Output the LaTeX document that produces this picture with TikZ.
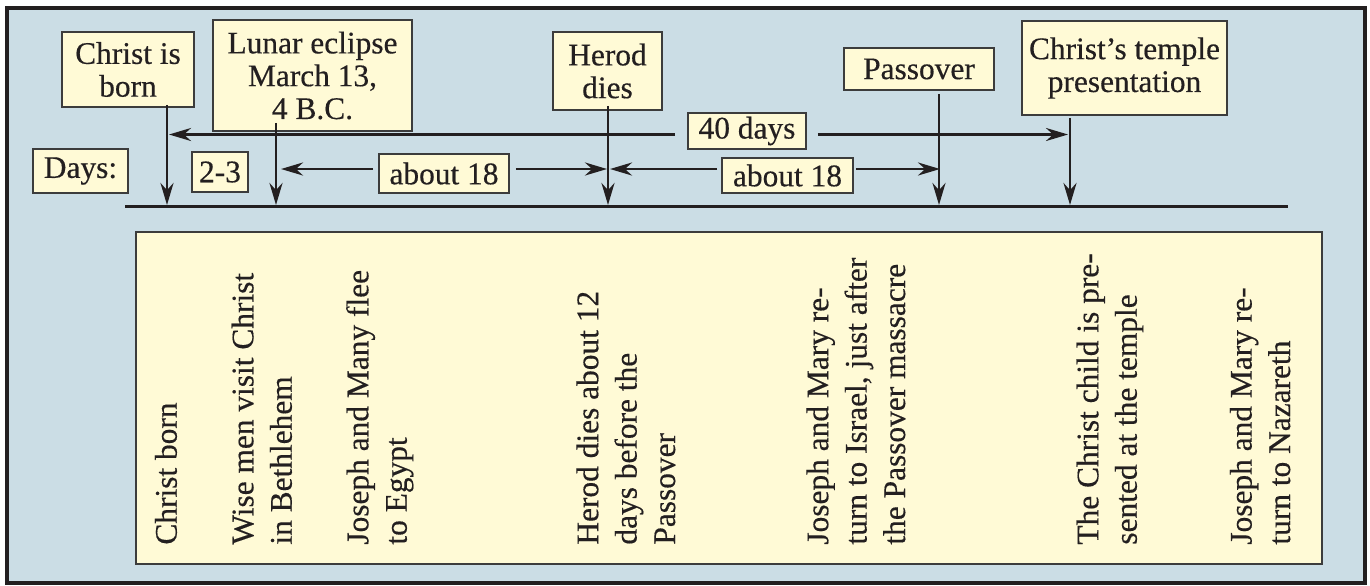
\documentclass[tikz,border=0pt]{standalone}
\usepackage{fontspec}
\setmainfont{Liberation Serif}[FakeBold=0.4]
\usetikzlibrary{arrows.meta,calc}
\definecolor{bgblue}{RGB}{203,221,229}
\definecolor{paleyel}{RGB}{255,250,214}
\definecolor{edgegray}{RGB}{60,60,60}
\definecolor{ink}{RGB}{35,31,32}
\begin{document}
\begin{tikzpicture}[x=0.5pt,y=-0.5pt,
  lbl/.style={draw=edgegray, line width=0.9pt, fill=paleyel, text=ink, align=center, inner sep=0pt,
    font=\fontsize{15.7}{16.4}\selectfont},
  note/.style={rotate=90, anchor=base west, align=left, inner sep=0pt, text=ink,
    font=\fontsize{15.7}{19.2}\selectfont},
  arr/.style={draw=ink, line width=1.4pt, -{Stealth[length=11pt,width=6.5pt]}},
  axisline/.style={draw=ink, line width=1.5pt}]
\useasboundingbox (0,0) rectangle (1370,585);
\fill[white] (0,0) rectangle (1370,585);
\draw[fill=bgblue, draw=ink, line width=1.6pt] (7,8) rectangle (1365,583);
\draw[fill=paleyel, draw=edgegray, line width=1pt] (136,232) rectangle (1322,564);

% top labels
\node[lbl, minimum width=66pt, minimum height=37.5pt] (cb) at (128,69.5) {Christ is\\born};
\node[lbl, minimum width=99.5pt, minimum height=55.5pt] (le) at (312.5,75.5) {Lunar eclipse\\March 13,\\4 B.C.};
\node[lbl, minimum width=54.5pt, minimum height=39pt] (hd) at (607.5,71) {Herod\\dies};
\node[lbl, minimum width=75pt, minimum height=21pt] (po) at (919,69) {Passover};
\node[lbl, minimum width=102.5pt, minimum height=47pt] (ct) at (1124.5,68) {Christ's temple\\presentation};
\node[lbl, minimum width=59pt, minimum height=18pt] (fd) at (747,131) {40 days};
\node[lbl, minimum width=47.5pt, minimum height=22pt] (dy) at (80.5,171) {Days:};
\node[lbl, minimum width=28pt, minimum height=20pt] (tt) at (220,172) {2-3};
\node[lbl, minimum width=65pt, minimum height=19.5pt] (a1) at (444,173.5) {about 18};
\node[lbl, minimum width=65.5pt, minimum height=17.5pt] (a2) at (787.5,175.5) {about 18};

% time axis
\coordinate (axl) at (125,206);
\coordinate (axr) at (1288,206);
\draw[axisline] (axl) -- (axr);

% tick points on the axis
\coordinate (b1) at (167,205);
\coordinate (b2) at (276,205);
\coordinate (b3) at (608,205);
\coordinate (b4) at (939,205);
\coordinate (b5) at (1070,205);

% 40 days span
\coordinate (l40) at (169,134.5);
\coordinate (r40) at (1068,134.5);
\draw[arr] ([xshift=-6pt]fd.west |- l40) -- (l40);
\draw[arr] ([xshift=5.5pt]fd.east |- r40) -- (r40);

% about 18 spans
\coordinate (a1l) at (281,169);
\coordinate (a1r) at (607,169);
\coordinate (a2l) at (610,169);
\coordinate (a2r) at (940,169);
\draw[arr] ([xshift=-2.5pt]a1.west |- a1l) -- (a1l);
\draw[arr] ([xshift=3pt]a1.east |- a1r) -- (a1r);
\draw[arr] ([xshift=-2pt]a2.west |- a2l) -- (a2l);
\draw[arr] ([xshift=1pt]a2.east |- a2r) -- (a2r);

% vertical arrows to the axis
\draw[arr] ([yshift=1.5pt]cb.south -| b1) -- (b1);
\draw[arr] ([yshift=4.5pt]le.south -| b2) -- (b2);
\draw[arr] ([yshift=2.5pt]hd.south -| b3) -- (b3);
\draw[arr] ([yshift=-1.5pt]po.south -| b4) -- (b4);
\draw[arr] ([yshift=-1pt]ct.south -| b5) -- (b5);

% rotated notes (positioned by the baseline of their last line)
\node[note] (n1) at (176.7,545) {Christ born};
\node[note] (n2) at (291.7,545) {Wise men visit Christ\\in Bethlehem};
\node[note] (n3) at (406.7,545) {Joseph and Many flee\\to Egypt};
\node[note] (n4) at (675,545) {Herod dies about 12\\days before the\\Passover};
\node[note] (n5) at (905,545) {Joseph and Mary re-\\turn to Israel, just after\\the Passover massacre};
\node[note] (n6) at (1136.7,545) {The Christ child is pre-\\sented at the temple};
\node[note] (n7) at (1290,545) {Joseph and Mary re-\\turn to Nazareth};
\end{tikzpicture}
\end{document}
